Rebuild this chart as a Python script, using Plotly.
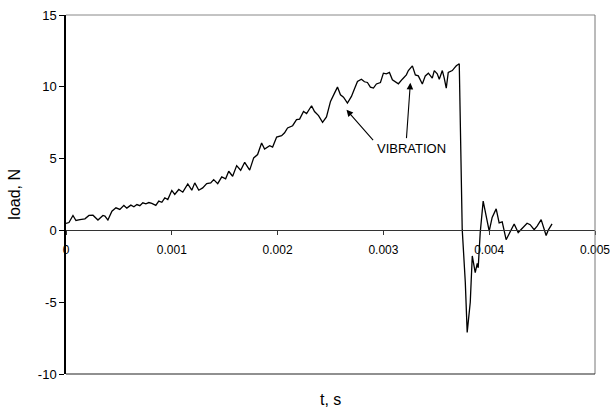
import plotly.graph_objects as go

# Time samples (microseconds) and measured load (N)
time_us = [0, 28, 66, 94, 132, 179, 217, 255, 302, 349, 368, 396, 434, 472, 509, 547,
           575, 613, 642, 670, 698, 726, 755, 783, 811, 849, 877, 906, 934, 962, 1000,
           1028, 1066, 1104, 1151, 1189, 1217, 1255, 1292, 1330, 1368, 1396, 1434, 1472,
           1509, 1538, 1575, 1613, 1651, 1689, 1736, 1774, 1811, 1849, 1877, 1925, 1953,
           1991, 2038, 2066, 2094, 2142, 2179, 2208, 2245, 2274, 2321, 2349, 2387, 2425,
           2462, 2500, 2538, 2566, 2594, 2623, 2660, 2698, 2726, 2755, 2792, 2821, 2849,
           2877, 2906, 2934, 2972, 3000, 3028, 3057, 3085, 3113, 3142, 3179, 3217, 3236,
           3274, 3302, 3330, 3368, 3396, 3425, 3462, 3481, 3509, 3528, 3557, 3575, 3594,
           3613, 3651, 3670, 3689, 3717, 3745, 3774, 3792, 3821, 3840, 3868, 3887, 3896,
           3915, 3943, 4000, 4028, 4066, 4094, 4123, 4160, 4198, 4236, 4274, 4311, 4358,
           4387, 4425, 4453, 4491, 4538, 4557, 4594]
load_n = [0.49, 0.55, 1.04, 0.69, 0.75, 0.81, 1.04, 1.06, 0.72, 1.04, 1.0, 0.72, 1.34,
          1.57, 1.46, 1.74, 1.55, 1.76, 1.65, 1.8, 1.72, 1.92, 1.85, 1.94, 1.88, 1.74,
          2.04, 1.96, 2.27, 2.15, 2.78, 2.5, 2.85, 2.66, 3.24, 2.8, 3.31, 2.8, 2.96, 3.26,
          3.31, 3.54, 3.26, 3.73, 3.59, 4.12, 3.77, 4.51, 4.19, 4.74, 4.2, 5.05, 5.28,
          6.09, 5.67, 5.9, 5.8, 6.5, 6.6, 6.8, 7.13, 7.29, 7.71, 7.75, 8.28, 8.13, 8.68,
          8.28, 7.99, 7.52, 7.9, 8.98, 9.56, 9.98, 9.44, 9.28, 8.87, 9.33, 9.84, 10.37,
          10.53, 10.35, 10.3, 9.98, 9.91, 10.2, 10.3, 10.95, 10.9, 11.0, 10.49, 10.35,
          10.21, 10.53, 10.83, 11.13, 11.46, 10.83, 10.76, 10.19, 10.76, 10.95, 10.6,
          11.13, 10.9, 10.53, 11.13, 10.6, 9.91, 11.0, 11.13, 11.3, 11.46, 11.6, 0.07,
          -3.6, -7.1, -5.0, -1.78, -2.94, -2.3, -2.6, -0.16, 2.04, -0.05, 0.9, 1.5, 0.53,
          0.6, -0.65, -0.1, 0.45, -0.15, 0.15, 0.5, 0.4, 0.05, 0.3, 0.75, -0.35, 0.0, 0.45]

x_ticks = [0, 0.001, 0.002, 0.003, 0.004, 0.005]
x_ticktext = ["0", "0.001", "0.002", "0.003", "0.004", "0.005"]
y_ticks = [-10, -5, 0, 5, 10, 15]
y_ticktext = ["-10", "-5", "0", "5", "10", "15"]

t_s = [v * 1e-6 for v in time_us]

FONT = "Liberation Sans, Arial, sans-serif"

fig = go.Figure()
fig.add_trace(go.Scatter(x=t_s, y=load_n, mode="lines",
                         line=dict(color="black", width=1.3),
                         showlegend=False, hoverinfo="skip"))

fig.update_layout(
    width=611, height=408,
    margin=dict(l=66, r=16, t=15, b=34, autoexpand=False),
    paper_bgcolor="white", plot_bgcolor="white",
    font=dict(family=FONT, size=12, color="black"),
    xaxis=dict(range=[0, 0.005], tickvals=x_ticks, ticktext=x_ticktext,
               anchor="free", position=0.4, showgrid=False, zeroline=False,
               automargin=False,
               showline=True, linecolor="#333333", linewidth=1,
               ticks="outside", ticklen=4, tickcolor="#333333",
               ticklabelstandoff=4,
               tickfont=dict(size=12, family=FONT)),
    yaxis=dict(range=[-10, 15], tickvals=y_ticks, ticktext=y_ticktext,
               showgrid=False, zeroline=False, automargin=False,
               showline=True, linecolor="black", linewidth=1.5,
               ticks="outside", ticklen=5, tickcolor="black",
               tickfont=dict(size=13, family=FONT)),
    shapes=[
        # plot-area frame: top, right, bottom
        dict(type="line", xref="paper", yref="paper", x0=0, x1=1, y0=1, y1=1,
             line=dict(color="#888888", width=1)),
        dict(type="line", xref="paper", yref="paper", x0=1, x1=1, y0=0, y1=1,
             line=dict(color="#777777", width=1)),
        dict(type="line", xref="paper", yref="paper", x0=0, x1=1, y0=0, y1=0,
             line=dict(color="#222222", width=1.2)),
    ],
    annotations=[
        dict(text="load, N", xref="paper", yref="paper", x=-0.098, y=0.5,
             xanchor="center", yanchor="middle", textangle=-90, showarrow=False,
             font=dict(size=16, family=FONT)),
        dict(text="t, s", xref="paper", yref="paper", x=0.5, y=-0.072,
             xanchor="center", yanchor="middle", showarrow=False,
             font=dict(size=16, family=FONT)),
        dict(text="VIBRATION", x=0.003264, y=5.69, xref="x", yref="y",
             showarrow=False, font=dict(size=13, family=FONT)),
        dict(text="", x=0.002651, y=8.4, ax=0.002915, ay=6.18, xref="x", yref="y",
             axref="x", ayref="y", showarrow=True, arrowhead=2, arrowsize=1.2,
             arrowwidth=1.1, arrowcolor="black"),
        dict(text="", x=0.003255, y=10.28, ax=0.003217, ay=6.32, xref="x", yref="y",
             axref="x", ayref="y", showarrow=True, arrowhead=2, arrowsize=1.2,
             arrowwidth=1.1, arrowcolor="black"),
    ],
)

fig.write_html("out.html")
